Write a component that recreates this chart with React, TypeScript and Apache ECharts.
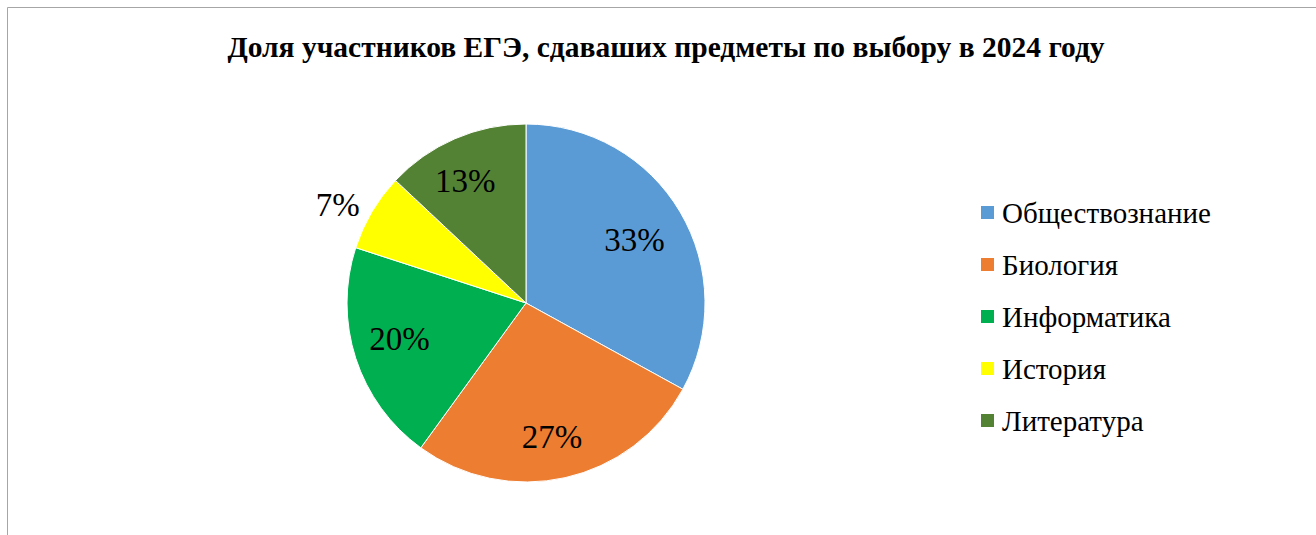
import React, { useEffect, useRef } from "react";
import * as echarts from "echarts";

const titleText = "Доля участников ЕГЭ, сдаваших предметы по выбору в 2024 году";
const categories = ["Обществознание", "Биология", "Информатика", "История", "Литература"];
const values = [33, 27, 20, 7, 13];
const colors = ["#5B9BD5", "#ED7D31", "#00B050", "#FFFF00", "#548235"];
const outsideLabelCategories = ["История"];

const FONT = "Liberation Serif";

// small nudges of the inside labels toward where the original places them
const labelNudge: Record<string, [number, number]> = {
  "Обществознание": [-6, 5],
  "Биология": [-3, 4],
  "Информатика": [0, -5],
  "Литература": [-8, 0],
};

export default function App() {
  const ref = useRef<HTMLDivElement>(null);
  useEffect(() => {
    document.body.style.margin = "0";
    const chart = echarts.init(ref.current!, null, { renderer: "svg" });
    const baseData = categories.map((name, i) => ({ name, value: values[i] }));
    const labelStyle = { fontFamily: FONT, fontSize: 33, color: "#000" };
    chart.setOption({
      animation: false,
      backgroundColor: "#fff",
      color: colors,
      title: {
        text: titleText,
        left: 666,
        textAlign: "center",
        top: 32,
        padding: 0,
        textStyle: { fontFamily: FONT, fontSize: 29.5, fontWeight: "bold", color: "#000" },
      },
      legend: {
        data: categories,
        orient: "vertical",
        left: 979,
        top: 198,
        padding: 0,
        itemWidth: 15,
        itemHeight: 15,
        itemGap: 23,
        icon: "rect",
        selectedMode: false,
        textStyle: { fontFamily: FONT, fontSize: 29, lineHeight: 29, color: "#000", padding: [0, 0, 0, 2] },
      },
      graphic: [
        {
          type: "rect",
          shape: { x: 7.5, y: 7.5, width: 1340, height: 560 },
          style: { fill: "none", stroke: "#a6a6a6", lineWidth: 1 },
          silent: true,
        },
      ],
      series: [
        {
          type: "pie",
          center: [526, 303],
          radius: [0, 179],
          startAngle: 90,
          clockwise: true,
          silent: true,
          label: { show: false },
          labelLine: { show: false },
          itemStyle: { borderColor: "#ffffff", borderWidth: 1 },
          data: baseData,
        },
        {
          type: "pie",
          center: [526, 303],
          radius: [81, 179],
          startAngle: 90,
          clockwise: true,
          silent: true,
          itemStyle: { color: "transparent", borderWidth: 0 },
          labelLine: { show: false },
          labelLayout: (p: any) => {
            const n = labelNudge[categories[p.dataIndex]] || [0, 0];
            return { dx: n[0], dy: n[1] };
          },
          label: {
            show: true,
            position: "inside",
            ...labelStyle,
            formatter: (p: any) => `${p.value}%`,
          },
          data: baseData.map((d) => ({
            ...d,
            label: { show: !outsideLabelCategories.includes(d.name) },
          })),
        },
        {
          type: "pie",
          center: [526, 303],
          radius: [200, 234],
          startAngle: 90,
          clockwise: true,
          silent: true,
          itemStyle: { color: "transparent", borderWidth: 0 },
          labelLine: { show: false },
          labelLayout: { dx: 1, dy: 14 },
          label: {
            show: true,
            position: "inside",
            ...labelStyle,
            formatter: (p: any) => `${p.value}%`,
          },
          data: baseData.map((d) => ({
            ...d,
            label: { show: outsideLabelCategories.includes(d.name) },
          })),
        },
      ],
    });
    return () => chart.dispose();
  }, []);
  return <div ref={ref} style={{ width: 1316, height: 535 }} />;
}
